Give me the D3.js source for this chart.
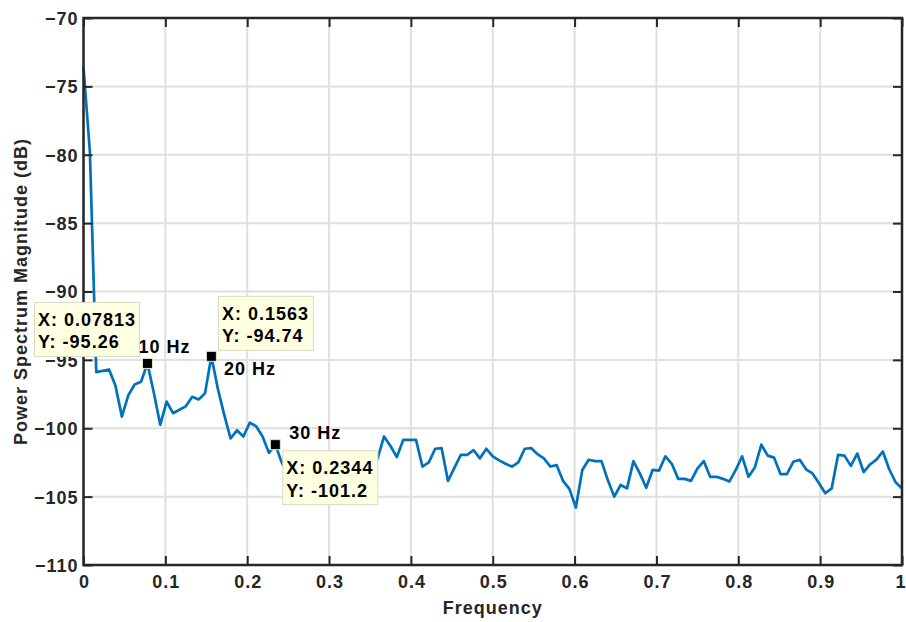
<!DOCTYPE html>
<html>
<head>
<meta charset="utf-8">
<script src="https://cdn.jsdelivr.net/npm/d3@7"></script>
<style>
  body { margin: 0; background: #fff; }
  svg text { font-family: "Liberation Sans", Arial, sans-serif; font-weight: bold; letter-spacing: 1px; }
</style>
</head>
<body>
<svg id="canvas"></svg>
<script>
// power spectrum, one value per bin (0 .. 1 in steps of 1/128)
const power = [
  -73.6, -79.8, -95.9, -95.8, -95.7, -96.9, -99.15, -97.6, -96.8, -96.6,
  -95.26, -97.4, -99.75, -98.05, -98.9, -98.65, -98.4, -97.7, -97.9, -97.45,
  -94.74, -97.1, -99.0, -100.75, -100.15, -100.6, -99.6, -99.85, -100.6, -101.8,
  -101.2, -102.5, -103.4, -102.9, -104.1, -103.2, -102.8, -103.9, -103.0, -102.6,
  -103.5, -104.2, -103.1, -102.7, -103.6, -103.3, -102.2, -100.6, -101.3, -102.1,
  -100.85, -100.85, -100.85, -102.8, -102.5, -101.5, -101.45, -103.85, -102.9, -101.95,
  -101.95, -101.6, -102.2, -101.5, -102.05, -102.35, -102.6, -102.8, -102.5, -101.5,
  -101.45, -101.9, -102.2, -102.8, -102.7, -103.85, -104.45, -105.8, -103.05, -102.3,
  -102.4, -102.4, -103.8, -105.0, -104.15, -104.4, -102.4, -103.3, -104.35, -103.05,
  -103.1, -102.05, -102.6, -103.7, -103.7, -103.85, -102.95, -102.4, -103.55, -103.55,
  -103.7, -103.9, -103.05, -102.05, -103.55, -102.85, -101.2, -102.0, -102.15, -103.35,
  -103.35, -102.45, -102.3, -103.0, -103.3, -104.0, -104.75, -104.4, -101.95, -102.0,
  -102.75, -101.85, -103.2, -102.65, -102.3, -101.7, -103.0, -103.95, -104.4
];
const binCount = 128;
const freq = power.map((d, i) => i / binCount);

const xTicks = [0, 0.1, 0.2, 0.3, 0.4, 0.5, 0.6, 0.7, 0.8, 0.9, 1];
const xTickLabels = ["0", "0.1", "0.2", "0.3", "0.4", "0.5", "0.6", "0.7", "0.8", "0.9", "1"];
const yTicks = [-110, -105, -100, -95, -90, -85, -80, -75, -70];

const tipX = [0.078125, 0.15625, 0.234375];
const tipY = [-95.26, -94.74, -101.2];
const tipXText = ["0.07813", "0.1563", "0.2344"];
const tipYText = ["-95.26", "-94.74", "-101.2"];
const tipLabels = ["10 Hz", "20 Hz", "30 Hz"];

// placement of each data tip box and label, relative to its marker
const tipBox = [
  { dx: -113, dy: -61, w: 105, h: 54 },
  { dx: 7, dy: -60, w: 95, h: 54 },
  { dx: 7.5, dy: 6, w: 95, h: 54 }
];
const labelPos = [
  { dx: -9, dy: -10.7 },
  { dx: 12.6, dy: 18.7 },
  { dx: 14, dy: -5.4 }
];

const width = 906;
const height = 622;
const plotLeft = 83.5, plotRight = 902, plotTop = 18, plotBottom = 565;
const axisColor = "#262626";
const fontSize = 18;

const canvas = d3.select("#canvas")
  .attr("width", width)
  .attr("height", height);

const xScale = d3.scaleLinear().domain([0, 1]).range([plotLeft, plotRight]);
const yScale = d3.scaleLinear().domain([-110, -70]).range([plotBottom, plotTop]);

// grid
canvas.append("g")
  .selectAll("line")
  .data(xTicks)
  .enter()
  .append("line")
  .attr("x1", d => xScale(d)).attr("x2", d => xScale(d))
  .attr("y1", plotTop).attr("y2", plotBottom)
  .attr("stroke", "#dfdfdf").attr("stroke-width", 2);
canvas.append("g")
  .selectAll("line")
  .data(yTicks)
  .enter()
  .append("line")
  .attr("x1", plotLeft).attr("x2", plotRight)
  .attr("y1", d => yScale(d)).attr("y2", d => yScale(d))
  .attr("stroke", "#dfdfdf").attr("stroke-width", 2);

// spectrum line
const line = d3.line()
  .x((d, i) => xScale(freq[i]))
  .y(d => yScale(d));

canvas.append("path")
  .datum(power)
  .attr("d", line)
  .attr("fill", "none")
  .attr("stroke", "#0072BD")
  .attr("stroke-width", 2.7)
  .attr("stroke-linejoin", "round");

// axes
function styleAxis(g) {
  g.select(".domain").remove();
  g.selectAll(".tick line").attr("stroke", axisColor).attr("stroke-width", 2);
  g.selectAll("text").attr("fill", axisColor).attr("font-size", fontSize);
}

const xAxis = d3.axisBottom(xScale).tickValues(xTicks)
  .tickFormat((d, i) => xTickLabels[i]).tickSize(-9).tickSizeOuter(0);
canvas.append("g")
  .attr("transform", `translate(0, ${plotBottom})`)
  .call(xAxis)
  .call(styleAxis)
  .selectAll("text").attr("y", 23).attr("dy", null)
  .attr("dx", (d, i) => i === xTicks.length - 1 ? -1.5 : 0.5);

const yAxis = d3.axisLeft(yScale).tickValues(yTicks).tickSize(-9).tickSizeOuter(0);
canvas.append("g")
  .attr("transform", `translate(${plotLeft}, 0)`)
  .call(yAxis)
  .call(styleAxis)
  .selectAll("text").attr("x", -5).attr("dy", "0.36em");

canvas.append("g")
  .attr("transform", `translate(0, ${plotTop})`)
  .call(d3.axisTop(xScale).tickValues(xTicks).tickSize(-9).tickSizeOuter(0).tickFormat(""))
  .call(styleAxis);

canvas.append("g")
  .attr("transform", `translate(${plotRight}, 0)`)
  .call(d3.axisRight(yScale).tickValues(yTicks).tickSize(-9).tickSizeOuter(0).tickFormat(""))
  .call(styleAxis);

canvas.append("rect")
  .attr("x", plotLeft).attr("y", plotTop)
  .attr("width", plotRight - plotLeft).attr("height", plotBottom - plotTop)
  .attr("fill", "none")
  .attr("stroke", axisColor)
  .attr("stroke-width", 2.5);

// axis titles
canvas.append("text")
  .attr("x", (plotLeft + plotRight) / 2)
  .attr("y", 614)
  .attr("text-anchor", "middle")
  .attr("font-size", fontSize)
  .attr("fill", axisColor)
  .text("Frequency");

canvas.append("text")
  .attr("transform", `translate(27, ${(plotTop + plotBottom) / 2}) rotate(-90)`)
  .attr("text-anchor", "middle")
  .attr("font-size", fontSize)
  .attr("fill", axisColor)
  .text("Power Spectrum Magnitude (dB)");

// data tip labels, markers and boxes
const tips = canvas.append("g");

tips.selectAll(".hz")
  .data(tipLabels)
  .enter()
  .append("text")
  .attr("class", "hz")
  .attr("x", (d, i) => xScale(tipX[i]) + labelPos[i].dx)
  .attr("y", (d, i) => yScale(tipY[i]) + labelPos[i].dy)
  .attr("font-size", fontSize)
  .attr("fill", "#000")
  .text(d => d);

tips.selectAll(".marker")
  .data(tipX)
  .enter()
  .append("rect")
  .attr("class", "marker")
  .attr("x", d => xScale(d) - 5)
  .attr("y", (d, i) => yScale(tipY[i]) - 5)
  .attr("width", 10)
  .attr("height", 10)
  .attr("fill", "#000")
  .attr("stroke", "#e6e6c8")
  .attr("stroke-width", 1);

const boxes = tips.selectAll(".tip")
  .data(tipX)
  .enter()
  .append("g")
  .attr("class", "tip")
  .attr("transform", (d, i) =>
    `translate(${xScale(d) + tipBox[i].dx}, ${yScale(tipY[i]) + tipBox[i].dy})`);

boxes.append("rect")
  .attr("width", (d, i) => tipBox[i].w)
  .attr("height", (d, i) => tipBox[i].h)
  .attr("fill", "#ffffe1")
  .attr("stroke", "#d9d9c4")
  .attr("stroke-width", 1);

boxes.append("text")
  .attr("x", 3.5)
  .attr("y", 23.5)
  .attr("font-size", fontSize)
  .attr("fill", "#000")
  .text((d, i) => `X: ${tipXText[i]}`);

boxes.append("text")
  .attr("x", 3.5)
  .attr("y", 46)
  .attr("font-size", fontSize)
  .attr("fill", "#000")
  .text((d, i) => `Y: ${tipYText[i]}`);
</script>
</body>
</html>
